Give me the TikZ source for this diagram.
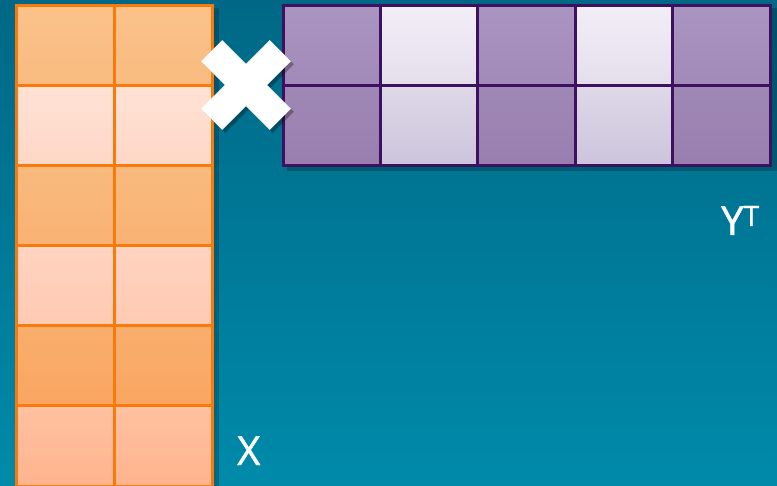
\documentclass[tikz,border=0pt]{standalone}
\usepackage{fontspec}
\setmainfont{Open Sans}
\newfontfamily\labelfont{Open Sans}[BoldFont={Open Sans}, BoldFeatures={FakeBold=1.2}]
\usetikzlibrary{positioning, fit, backgrounds}
\definecolor{bgtop}{RGB}{0,104,134}
\definecolor{bgbottom}{RGB}{0,138,170}
\definecolor{xline}{RGB}{247,122,10}
\definecolor{xr1t}{RGB}{250,194,138}
\definecolor{xr1b}{RGB}{249,187,128}
\definecolor{xr2t}{RGB}{255,226,213}
\definecolor{xr2b}{RGB}{255,215,198}
\definecolor{xr3t}{RGB}{249,186,126}
\definecolor{xr3b}{RGB}{249,178,115}
\definecolor{xr4t}{RGB}{255,212,193}
\definecolor{xr4b}{RGB}{255,201,178}
\definecolor{xr5t}{RGB}{249,174,108}
\definecolor{xr5b}{RGB}{249,166,98}
\definecolor{xr6t}{RGB}{255,193,161}
\definecolor{xr6b}{RGB}{255,180,142}
\definecolor{yline}{RGB}{60,18,96}
\definecolor{yd1t}{RGB}{170,148,192}
\definecolor{yd1b}{RGB}{162,138,184}
\definecolor{yd2t}{RGB}{160,136,182}
\definecolor{yd2b}{RGB}{152,126,174}
\definecolor{yl1t}{RGB}{242,238,246}
\definecolor{yl1b}{RGB}{228,222,236}
\definecolor{yl2t}{RGB}{222,216,232}
\definecolor{yl2b}{RGB}{205,196,220}

\begin{document}
\begin{tikzpicture}[
    x=1pt, y=-1pt,
    every node/.style={font=\labelfont\bfseries\fontsize{40}{42}\selectfont, text=white},
    xcell/.style={draw=xline, line width=3pt, minimum width=98pt, minimum height=80pt, inner sep=0pt, top color=#1t, bottom color=#1b},
    ycell/.style={draw=yline, line width=3pt, minimum width=97.4pt, minimum height=80pt, inner sep=0pt, top color=#1t, bottom color=#1b},
    shadowbox/.style={fill=black, opacity=0.22, inner sep=0pt},
]

%% Background
\begin{scope}[on background layer]
\shade[top color=bgtop, bottom color=bgbottom] (0,0) rectangle (777,486);
\end{scope}
\clip (0,0) rectangle (777,486);

%% Matrix X
\node[xcell=xr1] (x11) at (65,46) {};
\node[xcell=xr1] (x12) at (163,46) {};
\node[xcell=xr2] (x21) at (65,126) {};
\node[xcell=xr2] (x22) at (163,126) {};
\node[xcell=xr3] (x31) at (65,206) {};
\node[xcell=xr3] (x32) at (163,206) {};
\node[xcell=xr4] (x41) at (65,286) {};
\node[xcell=xr4] (x42) at (163,286) {};
\node[xcell=xr5] (x51) at (65,366) {};
\node[xcell=xr5] (x52) at (163,366) {};
\node[xcell=xr6] (x61) at (65,446) {};
\node[xcell=xr6] (x62) at (163,446) {};

%% Matrix Y^T
\node[ycell=yd1] (y11) at (331.7,46) {};
\node[ycell=yl1] (y12) at (429.1,46) {};
\node[ycell=yd1] (y13) at (526.5,46) {};
\node[ycell=yl1] (y14) at (623.9,46) {};
\node[ycell=yd1] (y15) at (721.3,46) {};
\node[ycell=yd2] (y21) at (331.7,126) {};
\node[ycell=yl2] (y22) at (429.1,126) {};
\node[ycell=yd2] (y23) at (526.5,126) {};
\node[ycell=yl2] (y24) at (623.9,126) {};
\node[ycell=yd2] (y25) at (721.3,126) {};

%% Shadows
\begin{scope}[on background layer]
\node[shadowbox, fit=(x11)(x62), xshift=5pt, yshift=-4pt] (xshadow) {};
\node[shadowbox, fit=(y11)(y25), xshift=5pt, yshift=-4pt] (yshadow) {};
\end{scope}

%% Times sign
\begin{scope}[shift={(249,88)}, rotate=45]
\fill[black, opacity=0.3] (-48.5,-15) rectangle (48.5,15);
\fill[black, opacity=0.3] (-15,-48.5) rectangle (15,48.5);
\end{scope}
\begin{scope}[shift={(246,85)}, rotate=45]
\fill[white] (-48.5,-15) rectangle (48.5,15);
\fill[white] (-15,-48.5) rectangle (15,48.5);
\end{scope}

%% Labels
\node[anchor=base west, inner sep=0pt] (xlabel) at (237,465) {X};
\node[anchor=base west, inner sep=0pt] (ylabel) at (721,235) {Y\textsuperscript{T}};

\end{tikzpicture}
\end{document}
